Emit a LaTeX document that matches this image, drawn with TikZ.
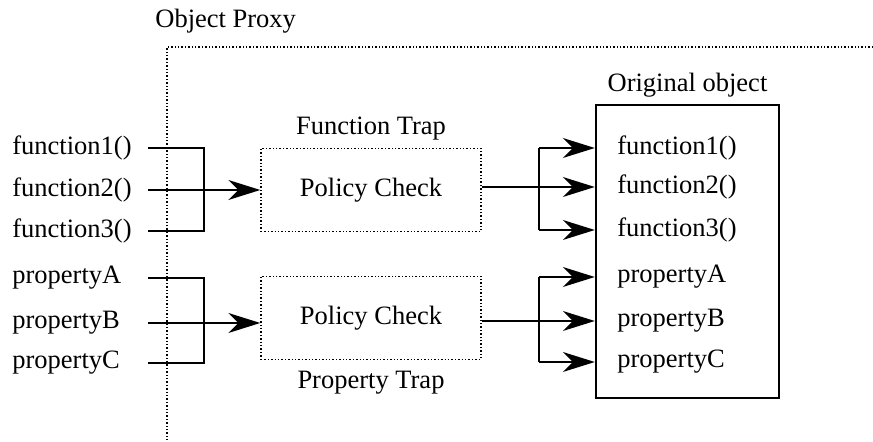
\documentclass[tikz,border=0pt]{standalone}
\usepackage{fontspec}
\setmainfont{Liberation Serif}
\usetikzlibrary{arrows.meta,positioning}

\begin{document}
\begin{tikzpicture}[x=0.5pt,y=-0.5pt,
        every node/.style={inner sep=0pt,font=\fontsize{13.25}{15}\selectfont},
        lbl/.style={anchor=west},
        trapbox/.style={draw,densely dotted,line width=0.7pt,minimum width=110pt,minimum height=41.5pt},
        wire/.style={line width=0.9pt},
        arr/.style={wire,-{Stealth[length=16pt,width=10pt,inset=5pt]}}]
        \useasboundingbox (0,0) rectangle (873,442);

        % proxy border
        \coordinate (PX) at (167,47);
        \draw[densely dotted,line width=0.7pt] (873,47) -- (PX) -- (167,440);
        \node[lbl] (proxy) at (155,21) {Object Proxy};

        % incoming calls
        \node[lbl] (lf1) at (12,148) {function1()};
        \node[lbl] (lf2) at (12,190) {function2()};
        \node[lbl] (lf3) at (12,231) {function3()};
        \node[lbl] (lpA) at (12,278) {propertyA};
        \node[lbl] (lpB) at (12,323) {propertyB};
        \node[lbl] (lpC) at (12,363) {propertyC};

        % traps
        \node[trapbox] (ftrap) at (371,190) {Policy Check};
        \node[above=3.5pt of ftrap] (ftrapL) {Function Trap};
        \node[trapbox] (ptrap) at (371,318) {Policy Check};
        \node[below=5.5pt of ptrap] (ptrapL) {Property Trap};

        % original object
        \node[draw,line width=1.2pt,minimum width=91.5pt,minimum height=146.5pt] (orig) at (687.5,251.5) {};
        \node[above=3pt of orig] (origL) {Original object};
        \node[lbl] (rf1) at (617,148) {function1()};
        \node[lbl] (rf2) at (617,187) {function2()};
        \node[lbl] (rf3) at (617,230) {function3()};
        \node[lbl] (rpA) at (617,277) {propertyA};
        \node[lbl] (rpB) at (617,321) {propertyB};
        \node[lbl] (rpC) at (617,362) {propertyC};

        \coordinate (LX) at (148,0);
        \coordinate (LB) at (204,0);
        \coordinate (RB) at (539,0);

        % left brackets
        \draw[wire] (LX |- lf1) -- (LB |- lf1) -- (LB |- lf3) -- (LX |- lf3);
        \draw[arr] (LX |- lf2) -- (ftrap.west |- lf2);
        \draw[wire] (LX |- lpA) -- (LB |- lpA) -- (LB |- lpC) -- (LX |- lpC);
        \draw[arr] (LX |- lpB) -- (ptrap.west |- lpB);

        % right brackets
        \draw[wire] (ftrap.east |- rf2) -- (RB |- rf2);
        \draw[wire] (RB |- rf1) -- (RB |- rf3);
        \foreach \n in {rf1,rf2,rf3}
        {\draw[arr] (RB |- \n) -- (orig.west |- \n);}
        \draw[wire] (ptrap.east |- rpB) -- (RB |- rpB);
        \draw[wire] (RB |- rpA) -- (RB |- rpC);
        \foreach \n in {rpA,rpB,rpC}
        {\draw[arr] (RB |- \n) -- (orig.west |- \n);}
\end{tikzpicture}
\end{document}
